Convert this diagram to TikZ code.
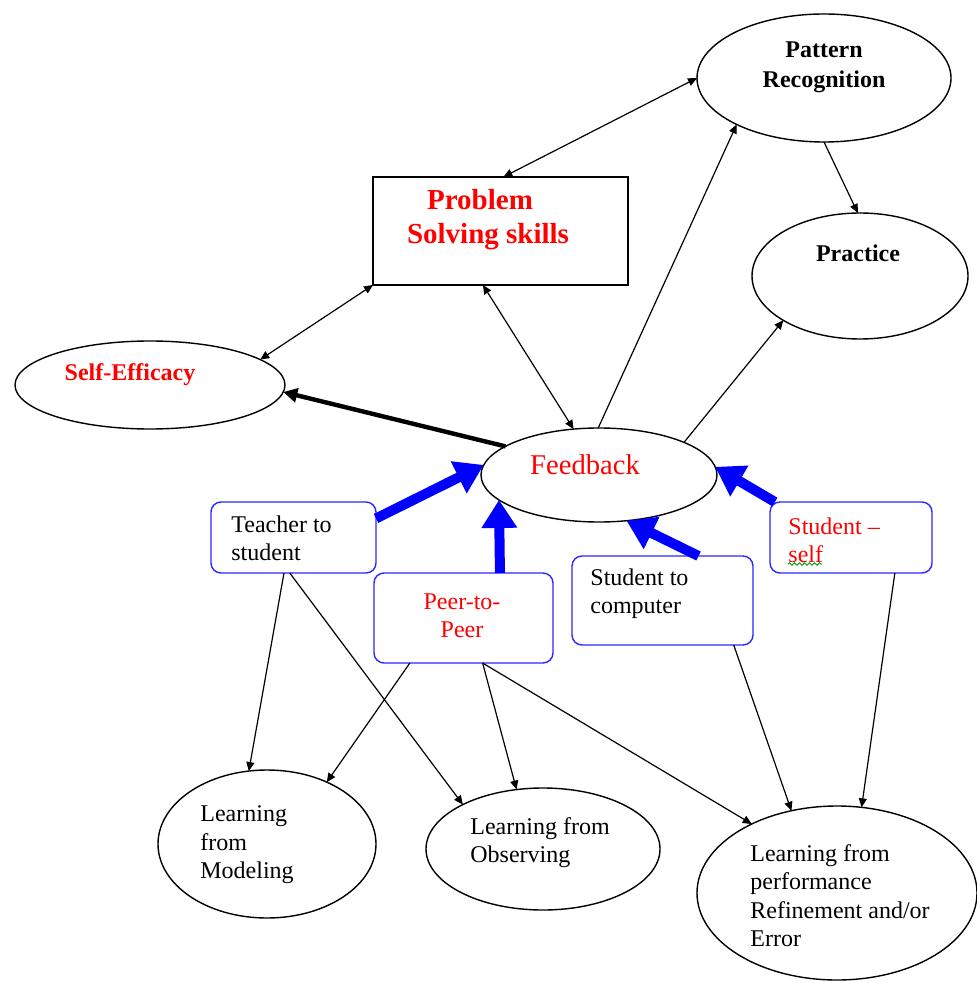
\documentclass[tikz,border=0pt]{standalone}
\usepackage{fontspec}
\setmainfont{Liberation Serif}
\usetikzlibrary{shapes.geometric,arrows.meta,decorations.pathmorphing}
\definecolor{myred}{RGB}{255,0,0}
\definecolor{myblue}{RGB}{0,0,255}
\definecolor{boxblue}{RGB}{40,40,255}
\begin{document}
\begin{tikzpicture}[x=0.5pt,y=-0.5pt,
  ell/.style={draw, ellipse, line width=0.7pt, inner sep=0pt, outer sep=0pt},
  rbox/.style={draw=boxblue, rounded corners=5pt, line width=0.7pt, inner sep=0pt, outer sep=0pt},
  txt/.style={inner sep=0pt, font=\fontsize{12}{14.2}\selectfont, align=left},
  thinarr/.style={-{Triangle[length=4.5pt,width=4pt]}, line width=0.6pt},
  thinboth/.style={{Triangle[length=4.5pt,width=4pt]}-{Triangle[length=4.5pt,width=4pt]}, line width=0.6pt},
  heavyarr/.style={-{Triangle[length=7pt,width=7pt]}, line width=2.2pt},
  bluearr/.style={-{Triangle[length=14pt,width=17pt]}, line width=5pt, myblue}]
\useasboundingbox (0,0) rectangle (976,983);
\fill[white] (0,0) rectangle (976,983);

% shapes
\node[ell, minimum width=127pt, minimum height=64pt] (pr) at (824,78) {};
\node[draw, line width=0.7pt, inner sep=0pt, outer sep=0pt, minimum width=127.5pt, minimum height=54pt] (prob) at (500.5,231) {};
\node[ell, minimum width=108pt, minimum height=63pt] (prac) at (860,276) {};
\node[ell, minimum width=135pt, minimum height=44pt] (se) at (150,385) {};
\node[ell, minimum width=118pt, minimum height=47pt] (fb) at (599,475) {};
\node[rbox, minimum width=82.5pt, minimum height=35.5pt] (teach) at (293.5,537.5) {};
\node[rbox, minimum width=89.5pt, minimum height=45pt] (peer) at (463.5,618) {};
\node[rbox, minimum width=90.5pt, minimum height=44.5pt] (comp) at (662.5,600.5) {};
\node[rbox, minimum width=81pt, minimum height=35.5pt] (self) at (851,537.5) {};
\node[ell, minimum width=109pt, minimum height=74pt] (model) at (267,844) {};
\node[ell, minimum width=117pt, minimum height=61pt] (obs) at (543,849) {};
\node[ell, minimum width=140pt, minimum height=87pt] (perf) at (837,893) {};

% texts
\node[txt, align=center, font=\fontsize{12}{15}\selectfont\bfseries] (prt) at (824,67) {Pattern\\Recognition};
\node[txt, align=center, text=myred, font=\fontsize{14.5}{17}\selectfont\bfseries] (probt) at (488,220) {Problem\hspace*{8pt}\\Solving skills};
\node[txt, font=\fontsize{12}{14.2}\selectfont\bfseries] (pract) at (858,253) {Practice};
\node[txt, text=myred, font=\fontsize{12}{14.2}\selectfont\bfseries] (set) at (130,375) {Self-Efficacy};
\node[txt, text=myred, font=\fontsize{14.3}{17}\selectfont] (fbt) at (585,465) {Feedback};
\node[txt, anchor=west] (teacht) at (231,538.5) {Teacher to\\student};
\node[txt, align=center, text=myred] (peert) at (462,615.5) {Peer-to-\\Peer};
\node[txt, anchor=west] (compt) at (590,594) {Student to\\computer};
\node[txt, anchor=west, text=myred] (selft) at (788,540) {Student --\\self};
\node[txt, anchor=west] (modelt) at (200,845) {Learning\\from\\Modeling};
\node[txt, anchor=west] (obst) at (470,842.5) {Learning from\\Observing};
\node[txt, anchor=west] (perft) at (750,895.5) {Learning from\\performance\\Refinement and/or\\Error};
\draw[green!60!black, line width=0.45pt, decorate, decoration={snake, amplitude=0.6pt, segment length=2.5pt}] (788,564) -- (822,564);

% black connectors
\draw[thinboth] (pr.180) -- (prob.87.4);
\draw[thinboth] (prob.south west) -- (se.13.3);
\draw[thinboth] (prob.252) -- (fb.119.4);
\draw[thinarr] (fb.91) -- (pr.208.8);
\draw[thinarr] (pr.south) -- (prac.92);
\draw[thinarr] (fb.21.7) -- (prac.210.9);
\draw[heavyarr] (fb.163.9) -- (se.-3.3);

% blue connectors
\draw[bluearr] (teach.13.3) -- (fb.175.2);
\draw[bluearr] (peer.51) -- (fb.194.7);
\draw[bluearr] (comp.51.8) -- (fb.301.5);
\draw[bluearr] (self.155.8) -- (fb.4.8);

% lower connectors
\draw[thinarr] (teach.255) -- (model.104);
\draw[thinarr] (teach.264.4) -- (obs.151.2);
\draw[thinarr] (peer.220) -- (model.46);
\draw[thinarr] (peer.293.4) -- (obs.114.7);
\draw[thinarr] (peer.293.4) -- (perf.141.2);
\draw[thinarr] (comp.328.5) -- (perf.119.6);
\draw[thinarr] (self.321.1) -- (perf.74.5);
\end{tikzpicture}
\end{document}
